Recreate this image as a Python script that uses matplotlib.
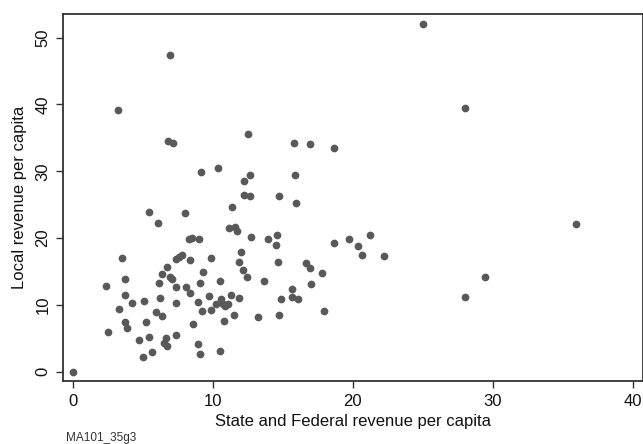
import matplotlib
matplotlib.use("Agg")
import matplotlib.pyplot as plt

# State/federal vs local revenue per capita, one point per district
state_federal = [
    0.0, 2.35, 2.52, 3.23, 3.28, 3.52, 3.75, 3.75, 3.75, 3.9,
    4.2, 4.72, 4.98, 5.07, 5.25, 5.43, 5.43, 5.63, 5.95, 6.1,
    6.16, 6.22, 6.36, 6.39, 6.5, 6.65, 6.7, 6.74, 6.77, 6.92,
    6.95, 7.07, 7.15, 7.36, 7.39, 7.39, 7.39, 7.6, 7.8, 7.98,
    8.06, 8.27, 8.36, 8.36, 8.53, 8.59, 8.91, 8.97, 9.03, 9.06,
    9.06, 9.18, 9.24, 9.3, 9.7, 9.88, 9.88, 10.2, 10.4, 10.5,
    10.5, 10.6, 10.7, 10.8, 10.88, 11.08, 11.14, 11.3, 11.38, 11.52,
    11.6, 11.76, 11.85, 11.9, 12.0, 12.14, 12.2, 12.26, 12.43, 12.49,
    12.67, 12.67, 12.73, 13.25, 13.64, 13.96, 14.49, 14.55, 14.66, 14.75,
    14.75, 14.87, 15.63, 15.69, 15.78, 15.84, 15.95, 16.07, 16.69, 16.98,
    16.98, 17.04, 17.77, 17.95, 18.68, 18.68, 19.7, 20.35, 20.67, 21.26,
    22.23, 25.04, 28.0, 28.03, 29.44, 35.95,
]
local = [
    0.0, 12.85, 5.9, 39.2, 9.45, 17.0, 13.9, 11.5, 7.5, 6.5,
    10.3, 4.7, 2.2, 10.55, 7.5, 23.85, 5.2, 3.0, 9.0, 22.3,
    13.3, 11.1, 8.3, 14.6, 4.3, 5.0, 3.8, 15.7, 34.6, 47.4,
    14.2, 13.8, 34.2, 5.5, 16.8, 12.65, 10.25, 17.1, 17.4, 23.7,
    12.65, 19.9, 16.7, 11.85, 20.0, 7.2, 10.5, 4.1, 19.9, 13.3,
    2.7, 29.95, 9.05, 14.9, 11.35, 17.0, 9.2, 10.15, 30.5, 13.5,
    3.1, 10.9, 10.2, 7.6, 9.8, 10.2, 21.5, 11.45, 24.65, 8.45,
    21.6, 21.1, 16.4, 11.1, 17.9, 15.2, 28.6, 26.45, 14.1, 35.55,
    26.35, 29.4, 20.15, 8.25, 13.55, 19.9, 18.9, 20.5, 16.45, 26.25,
    8.5, 10.85, 12.35, 11.25, 34.3, 29.5, 25.25, 10.85, 16.3, 15.5,
    34.1, 13.1, 14.7, 9.15, 33.5, 19.25, 19.8, 18.8, 17.45, 20.5,
    17.25, 52.05, 11.2, 39.5, 14.2, 22.05,
]

x_ticks = [0, 10, 20, 30, 40]
y_ticks = [0, 10, 20, 30, 40, 50]

plt.rcParams["font.family"] = ["Liberation Sans", "DejaVu Sans"]

fig = plt.figure(figsize=(6.43, 4.44), dpi=100)
ax = fig.add_axes([63 / 643, 63 / 444, 579.5 / 643, 367 / 444])

ax.scatter(state_federal, local, s=31, color="#595959", linewidths=0, zorder=3)

ax.set_xlim(-0.71, 40.71)
ax.set_ylim(-1.4, 53.55)
ax.set_xticks(x_ticks)
ax.set_yticks(y_ticks)
ax.set_xticklabels([str(t) for t in x_ticks])
ax.set_yticklabels([str(t) for t in y_ticks], rotation=90, va="center")

for side in ["left", "bottom", "top", "right"]:
    ax.spines[side].set_color("#333333")
    ax.spines[side].set_linewidth(1.3)

ax.tick_params(axis="both", direction="out", length=5, width=1.0,
               color="#333333", labelsize=12, labelcolor="#111111", pad=4)

ax.set_xlabel("State and Federal revenue per capita", fontsize=12,
              color="#111111", labelpad=4)
ax.set_ylabel("Local revenue per capita", fontsize=12, color="#111111",
              labelpad=6)

fig.text(66 / 643, 1 - 438 / 444, "MA101_35g3", fontsize=8.5,
         color="#333333", va="center", ha="left")

fig.savefig("out.png", dpi=100)
